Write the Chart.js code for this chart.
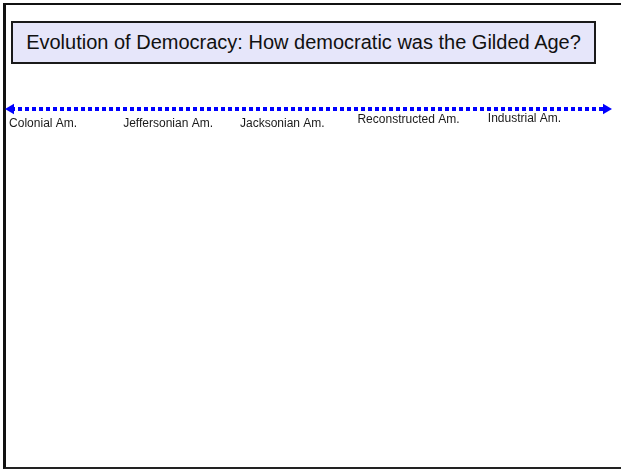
<!DOCTYPE html>
<html>
<head>
<meta charset="utf-8">
<script src="https://cdn.jsdelivr.net/npm/chart.js@4"></script>
<style>
  html, body { margin: 0; padding: 0; background: #fff; }
  body { width: 621px; height: 469px; position: relative; overflow: hidden; font-family: "Liberation Sans", Arial, sans-serif; }
  #frame { position: absolute; left: 3px; top: 3px; width: 700px; height: 462px; border-left: 3px solid #111; border-top: 2px solid #111; border-bottom: 2px solid #222; }
  #title { position: absolute; left: 11px; top: 21px; width: 581px; height: 39px; border: 2px solid #1a1a1a; background: #e6e6fa; color: #111; font-size: 20px; line-height: 39px; text-align: center; white-space: nowrap; }
  #wrap { position: absolute; left: 0; top: 84px; width: 621px; height: 50px; }
</style>
</head>
<body>
<div id="frame"></div>
<div id="title">Evolution of Democracy: How democratic was the Gilded Age?</div>
<div id="wrap"><canvas id="timeline"></canvas></div>
<script>
// eras along the timeline (0 = left end, 100 = right end)
const eras = ["Colonial Am.", "Jeffersonian Am.", "Jacksonian Am.", "Reconstructed Am.", "Industrial Am."];
const eraPos = [5.4, 26.4, 45.6, 66.8, 86.3];
const timelineSpan = [0, 100];

// vertical offset of each label under the line (style only)
const labelDy = [15, 15, 15, 11, 10];

const eraLabels = {
  id: "eraLabels",
  afterDatasetsDraw(chart) {
    const { ctx, scales: { x, y } } = chart;
    ctx.save();
    ctx.font = "12px 'Liberation Sans', Arial, sans-serif";
    ctx.fillStyle = "#1a1a1a";
    ctx.textAlign = "center";
    ctx.textBaseline = "middle";
    eras.forEach((name, i) => {
      ctx.fillText(name, x.getPixelForValue(eraPos[i]), y.getPixelForValue(0) + labelDy[i]);
    });
    ctx.restore();
  }
};

new Chart(document.getElementById("timeline"), {
  type: "scatter",
  data: {
    datasets: [{
      data: timelineSpan.map(v => ({ x: v, y: 0 })),
      showLine: true,
      borderColor: "#0000ff",
      backgroundColor: "#0000ff",
      borderWidth: 4,
      borderDash: [4, 3],
      borderCapStyle: "butt",
      pointStyle: "triangle",
      pointRotation: [-90, 90],
      pointRadius: 6,
      pointBorderWidth: 0,
      clip: false
    }]
  },
  plugins: [eraLabels],
  options: {
    responsive: true,
    maintainAspectRatio: false,
    animation: false,
    layout: { padding: { left: 11, right: 15, top: 0, bottom: 0 } },
    scales: {
      x: { display: false, min: 0, max: 100 },
      y: { display: false, min: -1, max: 1 }
    },
    plugins: {
      legend: { display: false },
      tooltip: { enabled: false }
    }
  }
});
</script>
</body>
</html>
